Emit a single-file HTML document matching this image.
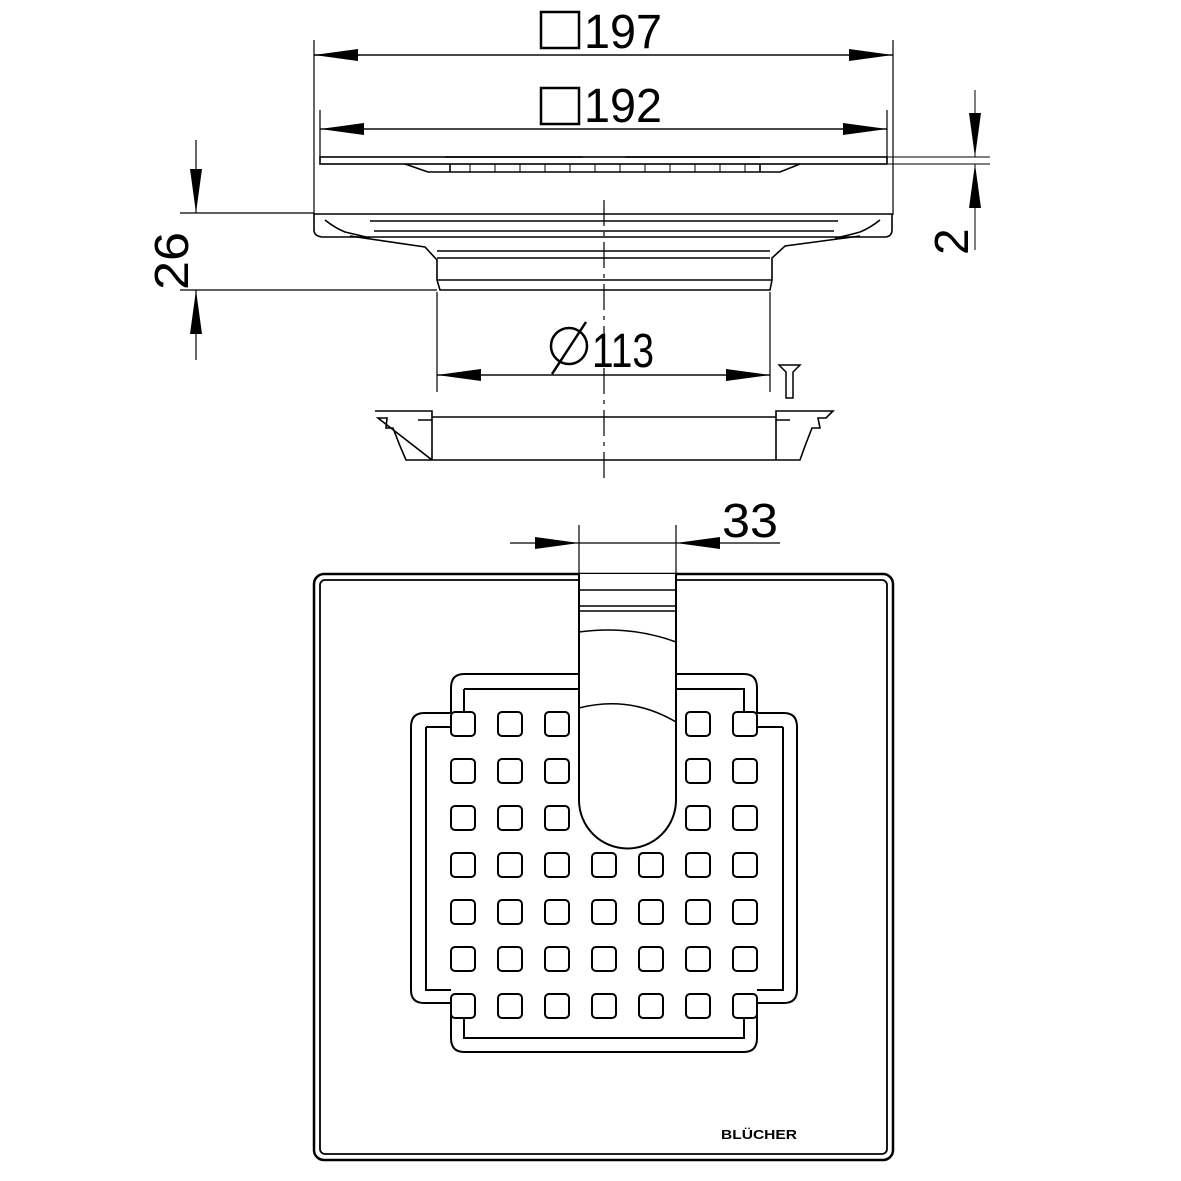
<!DOCTYPE html>
<html><head><style>html,body{margin:0;padding:0;background:#fff}svg{display:block}</style></head>
<body>
<svg width="1181" height="1181" viewBox="0 0 1181 1181" xmlns="http://www.w3.org/2000/svg" fill="none" stroke="#000" font-family="Liberation Sans, sans-serif">
<defs>
<marker id="a" markerWidth="44" markerHeight="12" refX="44" refY="6" orient="auto" markerUnits="userSpaceOnUse"><path d="M0,0 L44,6 L0,12Z" fill="#000" stroke="none"/></marker>
</defs>
<!-- top dims -->
<g stroke-width="1.2">
<line x1="314" y1="40" x2="314" y2="215"/>
<line x1="893" y1="40" x2="893" y2="215"/>
<line x1="360" y1="55" x2="314" y2="55"/><line x1="314" y1="55" x2="893" y2="55" marker-end="url(#a)"/>
<line x1="893" y1="55" x2="314" y2="55" marker-end="url(#a)"/>
<line x1="320" y1="110" x2="320" y2="160"/>
<line x1="887" y1="110" x2="887" y2="160"/>
<line x1="320" y1="129" x2="887" y2="129" marker-end="url(#a)"/>
<line x1="887" y1="129" x2="320" y2="129" marker-end="url(#a)"/>
</g>
<g stroke-width="2.5"><rect x="541" y="12" width="38" height="36"/><rect x="541" y="88" width="38" height="36"/></g>
<text x="584" y="48" font-size="48" fill="#000" stroke="none" textLength="78" lengthAdjust="spacingAndGlyphs">197</text>
<text x="584" y="122" font-size="48" fill="#000" stroke="none" textLength="78" lengthAdjust="spacingAndGlyphs">192</text>
<!-- grate side view -->
<g stroke-width="1.6">
<rect x="320" y="157" width="567" height="7"/>
<path d="M405,164 L428,172 L780,172 L800,164"/>
<path d="M450,164 L450,172 M760,164 L760,172"/>
<path d="M445,157 L582,157 M626,157 L760,157"/>
</g>
<g stroke-width="1">
<path d="M470,164 V172 M495,164 V172 M520,164 V172 M545,164 V172 M570,164 V172 M595,164 V172 M620,164 V172 M645,164 V172 M670,164 V172 M695,164 V172 M720,164 V172 M745,164 V172"/>
<line x1="887" y1="157" x2="990" y2="157"/><line x1="887" y1="164" x2="990" y2="164"/>
<line x1="975" y1="90" x2="975" y2="157" marker-end="url(#a)"/>
<line x1="975" y1="250" x2="975" y2="164" marker-end="url(#a)"/>
</g>
<text transform="translate(968,255) rotate(-90)" font-size="48" fill="#000" stroke="none">2</text>
<!-- body side view -->
<g stroke-width="1.6">
<path d="M314,214 H892 V230 Q892,236 886,237 H322 Q314,236 314,230Z"/>
<path d="M370,221 H838 M374,231 H834"/>
<path d="M350,236 L425,247 L437,260 V280 L440,290 H770 L772,280 V258 L785,246 L860,236"/>
<path d="M437,251 H770 M437,258 H770 M437,280 H772"/>
<path d="M325,220 Q335,228 345,232 Q358,235 370,238"/>
<path d="M880,220 Q870,228 860,232 Q846,236 835,238"/>
</g>
<g stroke-width="1.2">
<line x1="180" y1="213" x2="314" y2="213"/>
<line x1="180" y1="290" x2="437" y2="290"/>
<line x1="196" y1="140" x2="196" y2="213" marker-end="url(#a)"/>
<line x1="196" y1="360" x2="196" y2="290" marker-end="url(#a)"/>
<line x1="437" y1="292" x2="437" y2="392"/>
<line x1="770" y1="292" x2="770" y2="392"/>
<line x1="437" y1="375" x2="770" y2="375" marker-end="url(#a)"/>
<line x1="770" y1="375" x2="437" y2="375" marker-end="url(#a)"/>
<line x1="604" y1="200" x2="604" y2="480" stroke-dasharray="26,6,4,6"/>
</g>
<text transform="translate(188,290) rotate(-90)" font-size="48" fill="#000" stroke="none" textLength="58" lengthAdjust="spacingAndGlyphs">26</text>
<circle cx="569" cy="346" r="18" stroke-width="2.5"/><line x1="552" y1="374" x2="586" y2="322" stroke-width="2.5"/>
<text x="592" y="367" font-size="48" fill="#000" stroke="none" textLength="62" lengthAdjust="spacingAndGlyphs">113</text>
<!-- screw -->
<path d="M779,365 H800 L793,372 V398 H786 V372Z" stroke-width="1.5"/>
<!-- ring -->
<g stroke-width="1.6">
<path d="M375,411 L432,411 L432,460 H776 V411 L833,411 L826,418 L818,418 L820,428 L812,428 L805,446 L800,460 H776 M432,460 H406 L400,446 L393,428 L386,428 L387,418 L378,418Z"/>
<path d="M432,417 H776 M418,420 H432 M776,420 H790"/>
</g>
<!-- 33 dim -->
<g stroke-width="1.2">
<line x1="579" y1="525" x2="579" y2="800"/>
<line x1="676" y1="525" x2="676" y2="800"/>
<line x1="510" y1="543" x2="579" y2="543" marker-end="url(#a)"/>
<line x1="780" y1="543" x2="676" y2="543" marker-end="url(#a)"/>
<line x1="579" y1="543" x2="676" y2="543"/>
</g>
<text x="722" y="537" font-size="48" fill="#000" stroke="none" textLength="56" lengthAdjust="spacingAndGlyphs">33</text>
<!-- plan view -->
<rect x="314" y="574" width="579" height="586" rx="10" stroke-width="2.5"/>
<rect x="320" y="580" width="567" height="574" rx="5" stroke-width="1.8"/>
<g stroke-width="2">
<path d="M464,674 H744 Q757,674 757,688 V713 H784 Q797,713 797,727 V990 Q797,1003 784,1003 H757 V1038 Q757,1052 744,1052 H464 Q451,1052 451,1038 V1003 H424 Q411,1003 411,990 V727 Q411,713 424,713 H451 V688 Q451,674 464,674Z"/>
<path d="M464,689 H744 V713 M464,689 V713 M426,727 H451 M757,727 H783 M426,727 V990 H451 M783,727 V990 H757 M464,1003 V1038 H744 V1003"/>
</g>
<!-- slot -->
<path d="M579,574 V800 A48.5,48.5 0 0 0 676,800 V574" fill="#fff" stroke-width="2"/>
<g stroke-width="1.5"><line x1="579" y1="590" x2="676" y2="590"/><line x1="579" y1="606" x2="676" y2="606"/><line x1="579" y1="611" x2="676" y2="611"/><path d="M579,632 Q630,625 676,642"/><path d="M579,708 Q630,695 676,722"/></g>
<g stroke-width="2" fill="#fff">
<!-- squares -->
<g id="r">
<rect x="451" y="712" width="24" height="24" rx="4"/><rect x="498" y="712" width="24" height="24" rx="4"/><rect x="545" y="712" width="24" height="24" rx="4"/>
<rect x="686" y="712" width="24" height="24" rx="4"/><rect x="733" y="712" width="24" height="24" rx="4"/>
</g>
<use href="#r" y="47"/><use href="#r" y="94"/>
<g id="f">
<rect x="451" y="853" width="24" height="24" rx="4"/><rect x="498" y="853" width="24" height="24" rx="4"/><rect x="545" y="853" width="24" height="24" rx="4"/><rect x="592" y="853" width="24" height="24" rx="4"/><rect x="639" y="853" width="24" height="24" rx="4"/><rect x="686" y="853" width="24" height="24" rx="4"/><rect x="733" y="853" width="24" height="24" rx="4"/>
</g>
<use href="#f" y="47"/><use href="#f" y="94"/><use href="#f" y="141"/>
</g>
<text x="721" y="1139" font-size="13" font-weight="bold" fill="#000" stroke="none" textLength="76" lengthAdjust="spacingAndGlyphs">BLÜCHER</text>
</svg>
</body></html>
